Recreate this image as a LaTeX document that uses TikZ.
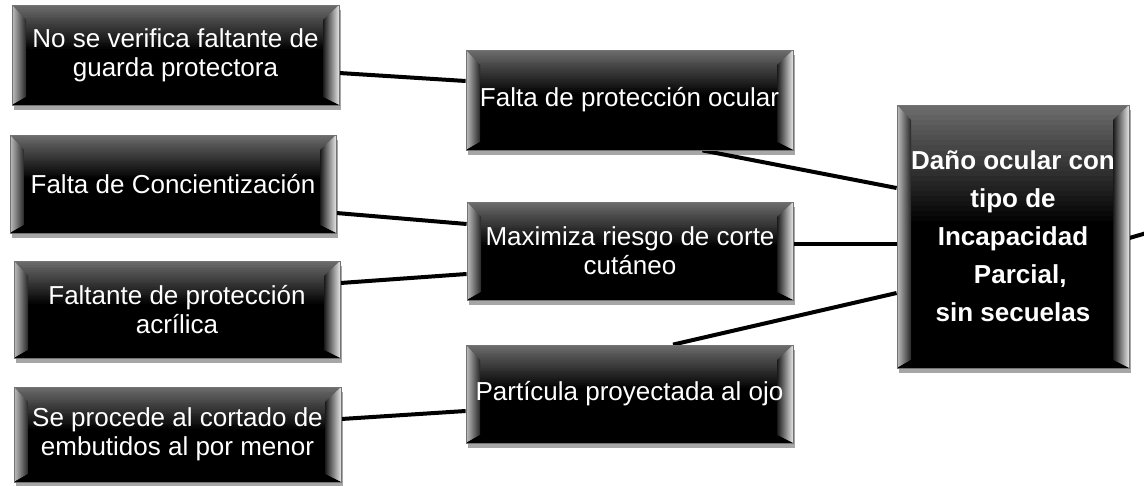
\documentclass[tikz,border=0pt]{standalone}
\usepackage{fontspec}
\setmainfont{Liberation Sans}
\usetikzlibrary{shadows,calc}
\pgfdeclarelayer{background}
\pgfsetlayers{background,main}
\tikzset{
  bevelbox/.style={
    rectangle, fill=black, draw=black!55, line width=0.8pt,
    text=white, align=center, inner sep=0pt,
    font=\fontsize{26}{29}\selectfont,
    drop shadow={shadow xshift=2pt, shadow yshift=-5pt, opacity=0.35, fill=black},
    path picture={
      \foreach \i in {0,...,23}{
        \pgfmathsetmacro{\shadeval}{58+42*\i/23}
        \pgfmathsetmacro{\ta}{\i/52}
        \pgfmathsetmacro{\tb}{(\i+1.2)/52}
        \fill[black!\shadeval]
          ($(path picture bounding box.north west)!\ta!(path picture bounding box.south west)$) rectangle
          ($(path picture bounding box.north east)!\tb!(path picture bounding box.south east)$);
      }
      \shade[left color=black!25, right color=black!85]
        (path picture bounding box.north west) --
        ([xshift=14pt,yshift=-15pt]path picture bounding box.north west) --
        ([xshift=14pt,yshift=8pt]path picture bounding box.south west) --
        (path picture bounding box.south west) -- cycle;
      \shade[left color=black!90, right color=white!90!black]
        (path picture bounding box.north east) --
        ([xshift=-16pt,yshift=-15pt]path picture bounding box.north east) --
        ([xshift=-16pt,yshift=8pt]path picture bounding box.south east) --
        (path picture bounding box.south east) -- cycle;
      \fill[black]
        (path picture bounding box.south west) --
        ([xshift=14pt,yshift=8pt]path picture bounding box.south west) --
        ([xshift=-16pt,yshift=8pt]path picture bounding box.south east) --
        (path picture bounding box.south east) -- cycle;
    }
  },
  conn/.style={line width=4pt, black}
}
\begin{document}
\begin{tikzpicture}[x=1pt,y=-1pt]
\useasboundingbox (0,0) rectangle (1144,485);

\node[bevelbox, minimum width=327pt, minimum height=100pt] (b1) at (175.5,55) {No se verifica faltante de\\guarda protectora};
\node[bevelbox, minimum width=326pt, minimum height=98pt] (b2) at (173,184) {Falta de Concientización};
\node[bevelbox, minimum width=326pt, minimum height=97pt] (b3) at (177,309.5) {Faltante de protección\\acrílica};
\node[bevelbox, minimum width=327pt, minimum height=95pt] (b4) at (177.5,434.5) {Se procede al cortado de\\embutidos al por menor};

\node[bevelbox, minimum width=327pt, minimum height=100pt] (m1) at (629.5,100) {Falta de protección ocular};
\node[bevelbox, minimum width=326pt, minimum height=98pt] (m2) at (630,251) {Maximiza riesgo de corte\\cutáneo};
\node[bevelbox, minimum width=327pt, minimum height=98pt] (m3) at (629.5,394) {Partícula proyectada al ojo};

\node[bevelbox, minimum width=232pt, minimum height=263pt, font=\bfseries\fontsize{26}{38}\selectfont] (r) at (1013,236.5) {Daño ocular con\\tipo de\\Incapacidad\\\ \ Parcial,\\sin secuelas};

\coordinate (exit) at (1150,232);

\begin{pgfonlayer}{background}
\fill[white] (0,0) rectangle (1144,485);
\draw[conn] ([yshift=-18pt]b1.east) -- ([yshift=19pt]m1.west);
\draw[conn] ([yshift=-29pt]b2.east) -- ([yshift=27pt]m2.west);
\draw[conn] ([yshift=26.5pt]b3.east) -- ([yshift=-23pt]m2.west);
\draw[conn] ([yshift=15.5pt]b4.east) -- ([yshift=-17pt]m3.west);
\draw[conn] ([xshift=73pt]m1.south) -- ([yshift=48.5pt]r.west);
\draw[conn] ([yshift=7pt]m2.east) -- ([yshift=-7.5pt]r.west);
\draw[conn] ([xshift=43.5pt]m3.north) -- ([yshift=-56.5pt]r.west);
\draw[conn] ([yshift=-1.5pt]r.east) -- (exit);
\end{pgfonlayer}
\end{tikzpicture}
\end{document}
